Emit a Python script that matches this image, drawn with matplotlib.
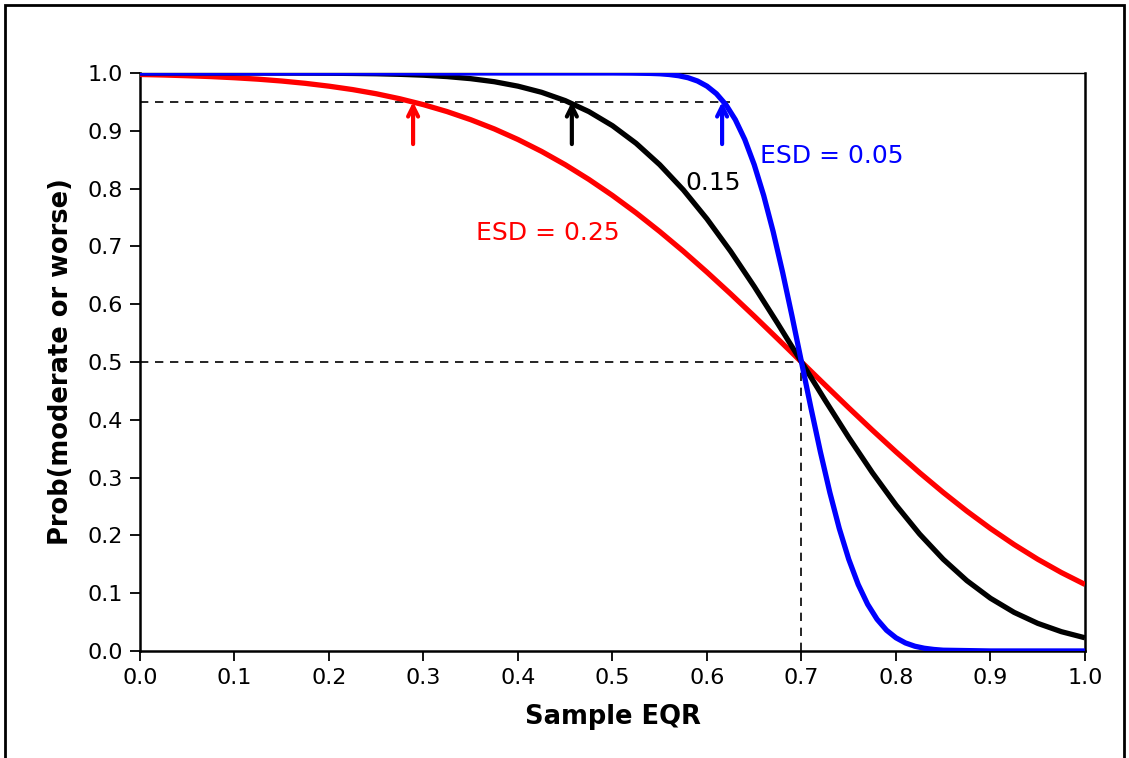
import matplotlib
matplotlib.use("Agg")
import matplotlib.pyplot as plt
from matplotlib.patches import Rectangle

# values
x_wide = [0.0, 0.025, 0.05, 0.075, 0.1, 0.125, 0.15, 0.175, 0.2, 0.225,
          0.25, 0.275, 0.3, 0.325, 0.35, 0.375, 0.4, 0.425, 0.45, 0.475,
          0.5, 0.525, 0.55, 0.575, 0.6, 0.625, 0.65, 0.675, 0.7, 0.725,
          0.75, 0.775, 0.8, 0.825, 0.85, 0.875, 0.9, 0.925, 0.95, 0.975, 1.0]
p_esd25 = [0.9974, 0.9965, 0.9953, 0.9938, 0.9918, 0.9893, 0.9861, 0.9821, 0.9772, 0.9713,
           0.9641, 0.9554, 0.9452, 0.9332, 0.9192, 0.9032, 0.8849, 0.8643, 0.8413, 0.8159,
           0.7881, 0.7580, 0.7257, 0.6915, 0.6554, 0.6179, 0.5793, 0.5398, 0.5000, 0.4602,
           0.4207, 0.3821, 0.3446, 0.3085, 0.2743, 0.2420, 0.2119, 0.1841, 0.1587, 0.1357, 0.1151]
p_esd15 = [1.0, 1.0, 1.0, 1.0, 1.0, 0.9999, 0.9999, 0.9998, 0.9996, 0.9992,
           0.9987, 0.9977, 0.9962, 0.9938, 0.9902, 0.9849, 0.9772, 0.9666, 0.9522, 0.9332,
           0.9088, 0.8783, 0.8413, 0.7977, 0.7475, 0.6915, 0.6306, 0.5662, 0.5000, 0.4338,
           0.3694, 0.3085, 0.2525, 0.2023, 0.1587, 0.1217, 0.0912, 0.0668, 0.0478, 0.0334, 0.0228]

x_blue = [0.0, 0.1, 0.2, 0.3, 0.4, 0.5, 0.52, 0.54, 0.55, 0.56, 0.57, 0.58, 0.59,
          0.60, 0.61, 0.62, 0.63, 0.64, 0.65, 0.66, 0.67, 0.68, 0.69, 0.70,
          0.71, 0.72, 0.73, 0.74, 0.75, 0.76, 0.77, 0.78, 0.79, 0.80,
          0.81, 0.82, 0.83, 0.84, 0.85, 0.9, 0.95, 1.0]
p_esd05 = [1.0, 1.0, 1.0, 1.0, 1.0, 1.0, 0.9998, 0.9993, 0.9987, 0.9974, 0.9953, 0.9918, 0.9861,
           0.9772, 0.9641, 0.9452, 0.9192, 0.8849, 0.8413, 0.7881, 0.7257, 0.6554, 0.5793, 0.5000,
           0.4207, 0.3446, 0.2743, 0.2119, 0.1587, 0.1151, 0.0808, 0.0548, 0.0359, 0.0228,
           0.0139, 0.0082, 0.0047, 0.0026, 0.0013, 0.0, 0.0, 0.0]

# where each curve crosses 0.95
x95 = {"red": 0.289, "black": 0.457, "blue": 0.616}
mid_x = 0.70

plt.rcParams['font.family'] = 'DejaVu Sans'
fig = plt.figure(figsize=(11.29, 7.58), dpi=100)
ax = fig.add_axes([0.124, 0.1412, 0.837, 0.7625])

ax.plot(x_wide, p_esd25, color='red', lw=3.8, solid_capstyle='butt', zorder=3)
ax.plot(x_wide, p_esd15, color='black', lw=3.8, solid_capstyle='butt', zorder=4)
ax.plot(x_blue, p_esd05, color='blue', lw=3.8, solid_capstyle='butt', zorder=5)

# dashed guide lines
ax.plot([0, x95["blue"] + 0.008], [0.95, 0.95], color='black', lw=1.2, ls=(0, (5, 4)), zorder=2)
ax.plot([0, mid_x], [0.5, 0.5], color='black', lw=1.2, ls=(0, (5, 4)), zorder=2)
ax.plot([mid_x, mid_x], [0, 0.5], color='black', lw=1.2, ls=(0, (5, 4)), zorder=2)

for c in ["red", "black", "blue"]:
    ax.annotate('', xy=(x95[c], 0.95), xytext=(x95[c], 0.877),
                arrowprops=dict(arrowstyle='->', color=c, lw=3, mutation_scale=18,
                                shrinkA=0, shrinkB=0), zorder=6)

ax.text(0.656, 0.856, 'ESD = 0.05', color='blue', fontsize=18, va='center')
ax.text(0.577, 0.81, '0.15', color='black', fontsize=18, va='center')
ax.text(0.356, 0.723, 'ESD = 0.25', color='red', fontsize=18, va='center')

ax.set_xlim(0, 1)
ax.set_ylim(0, 1)
ax.set_xticks([i / 10 for i in range(11)])
ax.set_yticks([i / 10 for i in range(11)])
ax.tick_params(direction='out', length=7, width=1.3, labelsize=16, pad=5)
ax.set_xlabel('Sample EQR', fontsize=18.5, fontweight='bold', labelpad=12)
ax.set_ylabel('Prob(moderate or worse)', fontsize=18.5, fontweight='bold', labelpad=10)
for s in ['left', 'bottom', 'right']:
    ax.spines[s].set_linewidth(1.8)
ax.spines['top'].set_linewidth(1.0)

# outer border of the picture
fig.patches.append(Rectangle((5 / 1129, -0.05), 1119 / 1129, 1.05 - 5 / 758,
                             transform=fig.transFigure, fill=False, lw=2, ec='black'))

fig.savefig('out.png', dpi=100)
